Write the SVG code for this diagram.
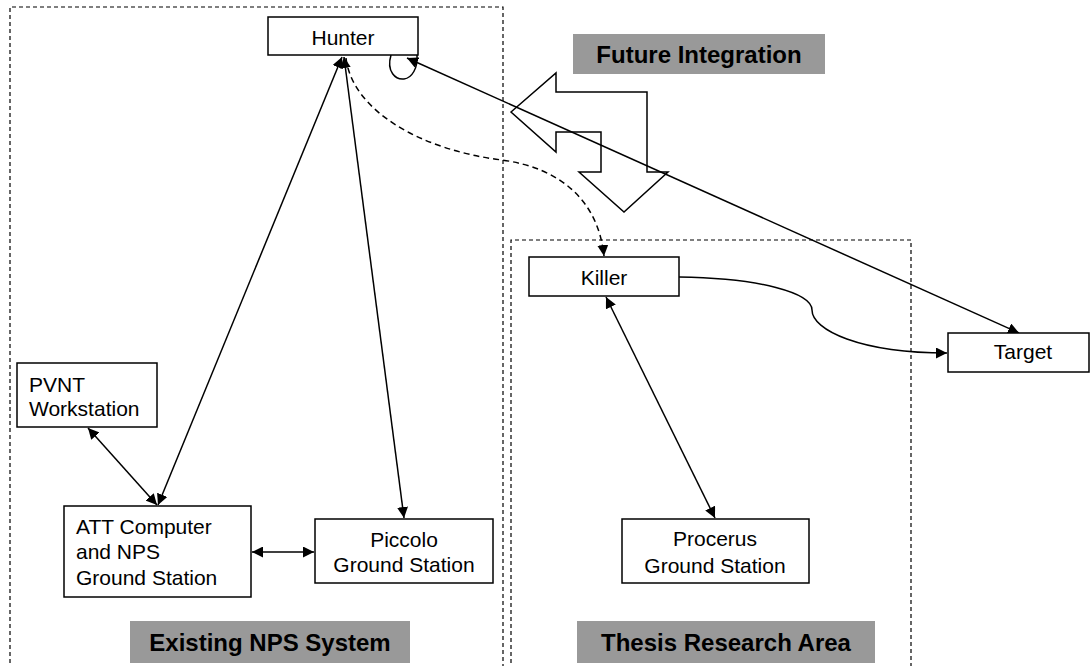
<svg xmlns="http://www.w3.org/2000/svg" width="1091" height="666" viewBox="0 0 1091 666">
<style>
.box{fill:#fff;stroke:#000;stroke-width:1.5}
.zone{fill:none;stroke:#000;stroke-width:1.2;stroke-dasharray:4,3}
.lbl{fill:#999}
.t{font-family:"Liberation Sans",Arial,sans-serif;font-size:21px;fill:#000}
.b{font-family:"Liberation Sans",Arial,sans-serif;font-size:24px;font-weight:bold;fill:#000;text-anchor:middle}
.c{text-anchor:middle}
.ln{fill:none;stroke:#000;stroke-width:1.5}
.dash{fill:none;stroke:#000;stroke-width:1.5;stroke-dasharray:6,4}
</style>
<defs>
<marker id="ah" viewBox="0 0 10 10" refX="10" refY="5" markerWidth="11" markerHeight="11" markerUnits="userSpaceOnUse" orient="auto-start-reverse">
<path d="M0,0 L10,5 L0,10 z" fill="#000"/>
</marker>
</defs>
<g id="zones">
<path class="zone" d="M10,670 V7 H503 V670"/>
<path class="zone" d="M511,670 V240 H911 V670"/>
</g>
<g id="future-arrow">
<polygon points="511,112 556,73 556,92 647,92 647,172 668,172 624,212 579,172 601,172 601,132 556,132 556,152" fill="#fff" stroke="#000" stroke-width="1.5"/>
</g>
<g id="connectors">
<path class="ln" d="M391,55 C386,72 396,80 404,79 C412,78 418,68 417,55"/>
<line class="ln" x1="407" y1="58" x2="1019" y2="333" marker-start="url(#ah)" marker-end="url(#ah)"/>
<path class="dash" d="M346,58 C352,110 420,150 502,160 C560,168 598,200 604,256" marker-end="url(#ah)"/>
<line class="ln" x1="342" y1="57" x2="158" y2="505" marker-start="url(#ah)" marker-end="url(#ah)"/>
<line class="ln" x1="344" y1="57" x2="404" y2="518" marker-start="url(#ah)" marker-end="url(#ah)"/>
<line class="ln" x1="88" y1="428" x2="157" y2="505" marker-start="url(#ah)" marker-end="url(#ah)"/>
<line class="ln" x1="252" y1="552" x2="314" y2="552" marker-start="url(#ah)" marker-end="url(#ah)"/>
<line class="ln" x1="606" y1="297" x2="715" y2="518" marker-start="url(#ah)" marker-end="url(#ah)"/>
<path class="ln" d="M679,277 C760,278 812,293 812,310 C812,330 860,353 947,353" marker-end="url(#ah)"/>
</g>
<g id="hunter">
<rect class="box" x="268" y="17" width="150" height="38"/>
<text class="t c" x="343" y="45">Hunter</text>
</g>
<g id="future-integration">
<rect class="lbl" x="573" y="34" width="252" height="40"/>
<text class="b" x="699" y="63">Future Integration</text>
</g>
<g id="killer">
<rect class="box" x="529" y="257" width="150" height="39"/>
<text class="t c" x="604" y="285">Killer</text>
</g>
<g id="target">
<rect class="box" x="948" y="333" width="141" height="39"/>
<text class="t c" x="1023" y="359">Target</text>
</g>
<g id="pvnt">
<rect class="box" x="17" y="363" width="140" height="64"/>
<text class="t" x="29" y="392">PVNT</text>
<text class="t" x="29" y="416">Workstation</text>
</g>
<g id="att">
<rect class="box" x="64" y="506" width="187" height="91"/>
<text class="t" x="76" y="534">ATT Computer</text>
<text class="t" x="76" y="559">and NPS</text>
<text class="t" x="76" y="585">Ground Station</text>
</g>
<g id="piccolo">
<rect class="box" x="315" y="519" width="178" height="64"/>
<text class="t c" x="404" y="547">Piccolo</text>
<text class="t c" x="404" y="572">Ground Station</text>
</g>
<g id="procerus">
<rect class="box" x="622" y="519" width="187" height="64"/>
<text class="t c" x="715" y="546">Procerus</text>
<text class="t c" x="715" y="573">Ground Station</text>
</g>
<g id="existing-nps">
<rect class="lbl" x="130" y="621" width="280" height="42"/>
<text class="b" x="270" y="651">Existing NPS System</text>
</g>
<g id="thesis-area">
<rect class="lbl" x="577" y="621" width="298" height="42"/>
<text class="b" x="726" y="651">Thesis Research Area</text>
</g>
</svg>
